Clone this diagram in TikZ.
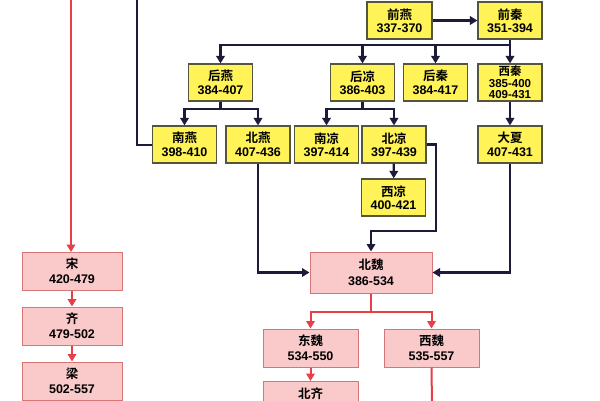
\documentclass[tikz,border=0pt]{standalone}
\usepackage{fontspec}
\setmainfont{Liberation Sans}
\newfontfamily\cjk{Noto Sans CJK SC}[BoldFont={Noto Sans CJK SC Bold}]
\usetikzlibrary{arrows.meta}
\definecolor{lineblue}{RGB}{28,28,58}
\definecolor{yfill}{RGB}{255,243,88}
\definecolor{ybord}{RGB}{85,85,62}
\definecolor{rfill}{RGB}{250,202,202}
\definecolor{rbord}{RGB}{214,118,118}
\definecolor{redline}{RGB}{232,62,72}

\begin{document}
\begin{tikzpicture}[x=1pt,y=-1pt,
  ybox/.style={draw=ybord, fill=yfill, line width=1.2pt, minimum width=64pt, minimum height=37pt, inner sep=0pt, align=center, font=\bfseries\fontsize{12.5}{13.5}\selectfont},
  rbox/.style={draw=rbord, fill=rfill, line width=1pt, minimum width=100pt, minimum height=38pt, inner sep=0pt, align=center, font=\bfseries\fontsize{12.5}{15}\selectfont},
  bline/.style={draw=lineblue, line width=2.2pt},
  barrow/.style={bline, -{Triangle[width=8.5pt,length=7.5pt]}},
  rline/.style={draw=redline, line width=2pt},
  rarrow/.style={rline, -{Triangle[width=8.5pt,length=7.5pt]}}]
\useasboundingbox (0,0) rectangle (600,400);
\clip (0,0) rectangle (600,400);
\fill[white] (0,0) rectangle (600,400);

% free ends
\coordinate (topnan) at (137,-5);
\coordinate (topsong) at (71,-5);
\coordinate (botxw) at (432,405);

% lines behind boxes
\draw[bline] (184,145) -| (topnan);
\draw[rarrow] (topsong) -- (71,252);

% yellow states
\node[ybox, minimum width=65pt] (qianyan) at (399.5,20.5) {{\cjk 前燕}\\337-370};
\node[ybox] (qianqin) at (510,20.5) {{\cjk 前秦}\\351-394};

\node[ybox] (houyan) at (220.5,82.5) {{\cjk 后燕}\\384-407};
\node[ybox] (houliang) at (362.5,82.5) {{\cjk 后凉}\\386-403};
\node[ybox] (houqin) at (435.5,82.5) {{\cjk 后秦}\\384-417};
\node[ybox, font=\bfseries\fontsize{11.5}{11.5}\selectfont] (xiqin) at (510,82.5) {{\cjk 西秦}\\385-400\\409-431};

\node[ybox] (nanyan) at (184.5,144.5) {{\cjk 南燕}\\398-410};
\node[ybox] (beiyan) at (258,144.5) {{\cjk 北燕}\\407-436};
\node[ybox] (nanliang) at (326.5,144.5) {{\cjk 南凉}\\397-414};
\node[ybox] (beiliang) at (394,144.5) {{\cjk 北凉}\\397-439};
\node[ybox] (daxia) at (510,144.5) {{\cjk 大夏}\\407-431};

\node[ybox] (xiliang) at (393.5,197.5) {{\cjk 西凉}\\400-421};

% red states
\node[rbox, minimum width=122pt, minimum height=41pt, font=\bfseries\fontsize{12.5}{16}\selectfont] (beiwei) at (371,272.5) {{\cjk 北魏}\\386-534};
\node[rbox, minimum width=95pt] (dongwei) at (310.5,348) {{\cjk 东魏}\\534-550};
\node[rbox, minimum width=95pt] (xiwei) at (431.5,348) {{\cjk 西魏}\\535-557};
\node[rbox, minimum width=95pt, anchor=north] (beiqi) at (310.5,381) {{\cjk 北齐}\\\phantom{550-577}};

\node[rbox] (song) at (72,271) {{\cjk 宋}\\420-479};
\node[rbox] (qi) at (72,326) {{\cjk 齐}\\479-502};
\node[rbox] (liang) at (72,381) {{\cjk 梁}\\502-557};

% blue connectors
\coordinate (bus) at (510,45);
\draw[barrow] (qianyan) -- (qianqin);
\draw[barrow] (qianqin) -- (xiqin);
\draw[barrow] (bus) -| (houyan.north);
\draw[barrow] (bus -| houliang) -- (houliang.north);
\draw[barrow] (bus -| houqin) -- (houqin.north);

\draw[barrow] (houyan.south) -- ++(0,7) -| (nanyan.north);
\draw[barrow] (houyan.south) -- ++(0,7) -| (beiyan.north);
\draw[barrow] (houliang.south) -- ++(0,7) -| (nanliang.north);
\draw[barrow] (houliang.south) -- ++(0,7) -| (beiliang.north);

\draw[barrow] (xiqin) -- (daxia);
\draw[barrow] (beiliang) -- (xiliang);
\draw[barrow] (beiliang.east) -| (436,231) -| (beiwei.north);
\draw[barrow] (beiyan.south) |- (beiwei.west);
\draw[barrow] (daxia.south) |- (beiwei.east);

% red connectors
\draw[rarrow] (song) -- (qi);
\draw[rarrow] (qi) -- (liang);
\draw[rarrow] (beiwei.south) -- ++(0,18) -| (dongwei.north);
\draw[rarrow] (beiwei.south) -- ++(0,18) -| (xiwei.north);
\draw[rarrow] (dongwei) -- (beiqi);
\draw[rline] (xiwei.south) -- (botxw);
\end{tikzpicture}
\end{document}
